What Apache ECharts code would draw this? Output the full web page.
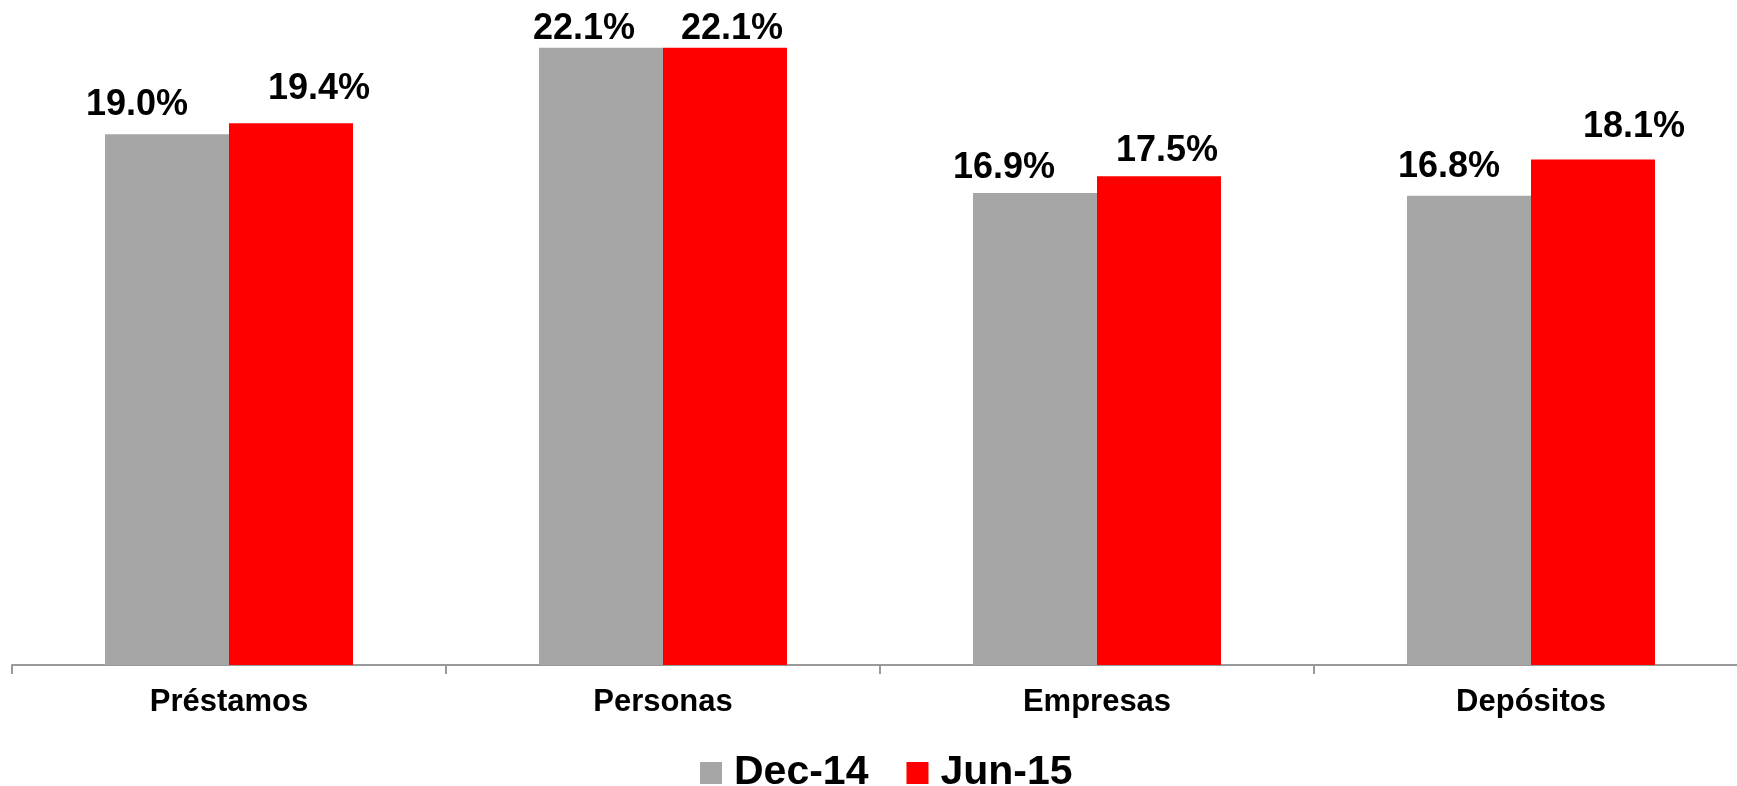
<!DOCTYPE html>
<html>
<head>
<meta charset="utf-8">
<script src="https://cdn.jsdelivr.net/npm/echarts@6/dist/echarts.min.js"></script>
<style>
html,body{margin:0;padding:0;background:#fff;}
#chart{width:1737px;height:786px;}
</style>
</head>
<body>
<div id="chart"></div>
<script>
const categories = ['Préstamos', 'Personas', 'Empresas', 'Depósitos'];
const seriesNames = ['Dec-14', 'Jun-15'];
const dec14 = [19.0, 22.1, 16.9, 16.8];
const jun15 = [19.4, 22.1, 17.5, 18.1];

// label placement tweaks (layout only)
const dec14LabelShift = [[-30, -11.6], [-17, -0.5], [-31, -7], [-20, -10.6]];
const jun15LabelShift = [[28, -15.6], [7, -0.5], [8, -7], [41, -14.6]];

const FONT = '"Liberation Sans", Arial, sans-serif';

function buildData(values, shifts) {
  return values.map((v, i) => ({
    value: v,
    label: { offset: shifts[i] }
  }));
}

const chart = echarts.init(document.getElementById('chart'), null, { renderer: 'canvas' });
const labelStyle = {
  show: true,
  position: 'top',
  distance: 0,
  fontFamily: FONT,
  fontWeight: 'bold',
  fontSize: 36,
  color: '#000',
  formatter: p => p.value.toFixed(1) + '%'
};

chart.setOption({
  animation: false,
  backgroundColor: '#fff',
  grid: { left: 12, width: 1736, top: 22.6, bottom: 121, containLabel: false, outerBoundsMode: 'none' },
  legend: {
    data: seriesNames,
    left: 695,
    top: 747.5,
    itemWidth: 22,
    itemHeight: 22,
    itemGap: 38,
    icon: 'rect',
    textStyle: { fontFamily: FONT, fontWeight: 'bold', fontSize: 41, color: '#000', padding: [0, 0, 0, 7] }
  },
  xAxis: {
    type: 'category',
    data: categories,
    axisLine: { lineStyle: { color: '#999', width: 2 } },
    axisTick: { show: true, length: 9, lineStyle: { color: '#999', width: 2 } },
    axisLabel: { margin: 22, fontFamily: FONT, fontWeight: 'bold', fontSize: 31, color: '#000' }
  },
  yAxis: {
    type: 'value',
    min: 0,
    max: 23,
    show: false,
    splitLine: { show: false }
  },
  series: [
    {
      name: seriesNames[0],
      type: 'bar',
      data: buildData(dec14, dec14LabelShift),
      itemStyle: { color: '#A6A6A6' },
      barGap: '0%',
      barCategoryGap: '42.86%',
      label: labelStyle
    },
    {
      name: seriesNames[1],
      type: 'bar',
      data: buildData(jun15, jun15LabelShift),
      itemStyle: { color: '#FF0000' },
      barGap: '0%',
      barCategoryGap: '42.86%',
      label: labelStyle
    }
  ]
});
</script>
</body>
</html>
